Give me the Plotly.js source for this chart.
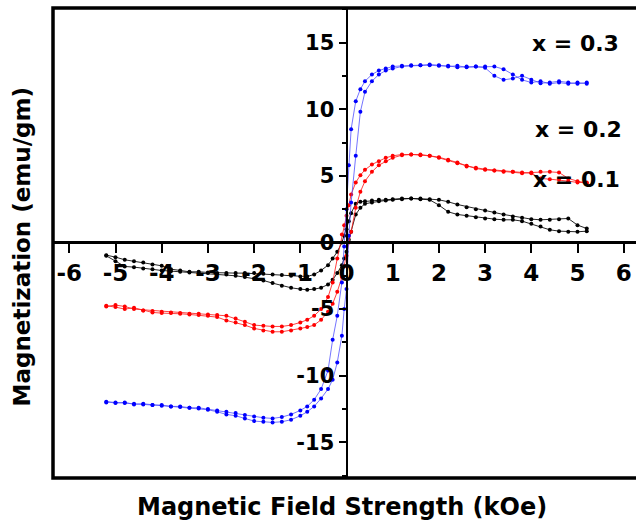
<!DOCTYPE html>
<html>
<head>
<meta charset="utf-8">
<script src="https://cdn.plot.ly/plotly-3.0.1.min.js"></script>
<style>html,body{margin:0;padding:0;background:#fff;}#chart{width:636px;height:526px;}</style>
</head>
<body>
<div id="chart"></div>
<script>
// Magnetic field (kOe) sample grid, from +5.2 down to -5.2
var field = [5.2,5.0,4.8,4.6,4.4,4.2,4.0,3.8,3.6,3.4,3.2,3.0,2.8,2.6,2.4,2.2,2.0,1.8,1.6,1.4,1.2,
  1.0,0.85,0.7,0.55,0.4,0.3,0.2,0.1,0.05,0.0,-0.05,-0.1,-0.2,-0.3,-0.4,-0.55,-0.7,-0.85,-1.0,
  -1.2,-1.4,-1.6,-1.8,-2.0,-2.2,-2.4,-2.6,-2.8,-3.0,-3.2,-3.4,-3.6,-3.8,-4.0,-4.2,-4.4,-4.6,-4.8,-5.0,-5.2];

// x = 0.3 (blue): descending and ascending branches, values at each field point above
var m03Down = [11.9,12.0,11.9,12.0,11.9,12.1,12.0,12.2,12.6,13.0,13.2,13.2,13.2,13.15,13.25,13.2,13.3,13.35,13.3,13.3,13.25,
  13.2,13.05,12.9,12.6,12.1,11.5,10.6,8.5,5.8,2.5,-0.3,-3.0,-5.5,-7.3,-9.6,-11.0,-11.8,-12.3,-12.6,
  -12.9,-13.1,-13.2,-13.15,-13.05,-12.95,-12.8,-12.7,-12.6,-12.5,-12.4,-12.4,-12.3,-12.3,-12.2,-12.2,-12.15,-12.1,-12.05,-12.0,-11.95];
var m03Up = [12.0,11.9,12.0,12.1,12.0,11.95,12.2,12.5,12.3,12.2,12.5,13.1,13.2,13.2,13.15,13.25,13.25,13.3,13.3,13.25,13.2,
  13.05,12.9,12.6,12.1,11.3,9.8,6.5,3.0,0.5,-3.5,-5.0,-7.0,-9.0,-10.3,-11.0,-11.7,-12.3,-12.7,-13.0,
  -13.3,-13.45,-13.5,-13.45,-13.4,-13.2,-13.0,-12.9,-12.7,-12.55,-12.45,-12.4,-12.35,-12.3,-12.25,-12.2,-12.1,-12.15,-12.0,-12.05,-12.0];

// x = 0.2 (red)
var m02Down = [4.5,4.5,4.6,4.7,4.75,4.8,5.2,5.25,5.3,5.35,5.4,5.5,5.6,5.75,6.0,6.2,6.4,6.5,6.6,6.6,6.6,
  6.5,6.35,6.1,5.85,5.45,5.05,4.5,3.6,2.8,2.0,1.3,0.6,-1.2,-3.0,-4.1,-5.0,-5.5,-5.8,-6.0,
  -6.2,-6.3,-6.3,-6.25,-6.2,-5.95,-5.7,-5.5,-5.45,-5.4,-5.35,-5.35,-5.3,-5.25,-5.2,-5.15,-5.1,-5.0,-4.8,-4.7,-4.8];
var m02Up = [4.45,4.6,4.8,5.25,5.3,5.3,5.25,5.2,5.3,5.3,5.4,5.45,5.55,5.7,5.95,6.15,6.35,6.5,6.55,6.6,6.55,
  6.35,6.1,5.8,5.3,4.6,3.8,2.6,0.8,0.0,-1.0,-1.8,-2.6,-3.7,-4.6,-5.2,-5.8,-6.2,-6.35,-6.45,
  -6.6,-6.7,-6.7,-6.6,-6.45,-6.2,-6.0,-5.85,-5.6,-5.5,-5.45,-5.4,-5.35,-5.3,-5.3,-5.25,-5.1,-4.9,-5.0,-4.85,-4.75];

// x = 0.1 (black)
var m01Down = [1.05,1.3,1.8,1.75,1.7,1.7,1.75,1.85,1.95,2.1,2.25,2.4,2.5,2.65,2.85,3.05,3.2,3.25,3.3,3.3,3.3,
  3.25,3.2,3.2,3.15,3.1,3.05,2.9,2.2,1.6,1.0,0.5,0.0,-0.7,-1.2,-1.7,-2.1,-2.4,-2.55,-2.55,
  -2.5,-2.45,-2.4,-2.35,-2.3,-2.3,-2.3,-2.3,-2.3,-2.25,-2.2,-2.2,-2.1,-2.0,-1.75,-1.65,-1.5,-1.4,-1.3,-1.1,-0.95];
var m01Up = [0.85,0.8,0.8,0.85,0.95,1.2,1.4,1.6,1.7,1.7,1.75,1.8,1.9,2.0,2.1,2.3,2.8,3.2,3.25,3.3,3.25,
  3.2,3.15,3.1,3.0,2.9,2.6,2.1,0.8,0.2,-0.7,-1.2,-1.7,-2.3,-2.8,-3.15,-3.4,-3.5,-3.55,-3.5,
  -3.4,-3.25,-3.05,-2.85,-2.7,-2.6,-2.5,-2.4,-2.35,-2.3,-2.3,-2.25,-2.2,-2.15,-2.1,-2.0,-1.95,-1.85,-1.8,-1.4,-1.0];

var seriesLabels = ['x = 0.1', 'x = 0.2', 'x = 0.3'];
var labelField = [4.97, 5.02, 4.95];
var labelMag = [4.76, 8.44, 14.9];

var xTickVals = [-6,-5,-4,-3,-2,-1,0,1,2,3,4,5,6];
var xTickText = ['-6','-5','-4','-3','-2','-1','0','1','2','3','4','5','6'];
var yTickVals = [-15,-10,-5,0,5,10,15];
var yTickText = ['-15','-10','-5','0','5','10','15'];

function loop(down, up) {
  var revField = field.slice().reverse();
  var revUp = up.slice().reverse();
  return {x: field.concat(revField), y: down.concat(revUp)};
}

var styles = [
  {m: '#000000', l: 'rgba(0,0,0,0.85)'},
  {m: '#ff0000', l: 'rgba(255,30,30,0.85)'},
  {m: '#0000ff', l: 'rgba(70,70,255,0.75)'}
];
var loops = [loop(m01Down, m01Up), loop(m02Down, m02Up), loop(m03Down, m03Up)];
var traces = loops.map(function (d, i) {
  return {
    x: d.x, y: d.y, type: 'scatter', mode: 'lines+markers',
    name: seriesLabels[i],
    line: {color: styles[i].l, width: 1},
    marker: {color: styles[i].m, size: 4},
    showlegend: false
  };
});

var XR = [-6.353, 6.266];
var YR = [-17.67, 17.59];
var fontFam = 'DejaVu Sans, Liberation Sans, Arial, sans-serif';

var annotations = seriesLabels.map(function (t, i) {
  return {x: labelField[i], y: labelMag[i], xref: 'x', yref: 'y', text: t, showarrow: false,
    xanchor: 'center', yanchor: 'middle',
    font: {family: fontFam, size: 22, color: '#000', weight: 'bold'}};
});
annotations.push({x: 0.4949, y: -0.062, xref: 'paper', yref: 'paper', text: 'Magnetic Field Strength (kOe)',
  showarrow: false, xanchor: 'center', yanchor: 'middle',
  font: {family: fontFam, size: 24, color: '#000', weight: 'bold'}});
annotations.push({x: -0.0532, y: 0.4926, xref: 'paper', yref: 'paper', text: 'Magnetization (emu/gm)',
  showarrow: false, xanchor: 'center', yanchor: 'middle', textangle: -90,
  font: {family: fontFam, size: 23, color: '#000', weight: 'bold'}});

var layout = {
  width: 636, height: 526,
  margin: {l: 53, r: 0, t: 8, b: 48},
  paper_bgcolor: '#ffffff', plot_bgcolor: '#ffffff',
  showlegend: false,
  xaxis: {
    range: XR, anchor: 'free', position: (0 - YR[0]) / (YR[1] - YR[0]),
    showline: true, linecolor: '#000', linewidth: 2.5, zeroline: false, showgrid: false,
    ticks: 'outside', ticklen: 9, tickwidth: 2, tickcolor: '#000',
    tickmode: 'array', tickvals: xTickVals, ticktext: xTickText,
    tickfont: {family: fontFam, size: 23, color: '#000', weight: 'bold'},
    layer: 'above traces'
  },
  yaxis: {
    range: YR, anchor: 'free', position: (0 - XR[0]) / (XR[1] - XR[0]),
    showline: true, linecolor: '#000', linewidth: 2.5, zeroline: false, showgrid: false,
    ticks: 'outside', ticklen: 7, tickwidth: 2, tickcolor: '#000',
    tickmode: 'array', tickvals: yTickVals, ticktext: yTickText,
    minor: {tickmode: 'array', tickvals: [-17.5,-12.5,-7.5,-2.5,2.5,7.5,12.5,17.5], ticks: 'outside', ticklen: 4, tickwidth: 2, tickcolor: '#000', showgrid: false},
    tickfont: {family: fontFam, size: 21, color: '#000', weight: 'bold'},
    layer: 'above traces'
  },
  shapes: [{type: 'rect', xref: 'paper', yref: 'paper', x0: 0, x1: 1.02, y0: 0, y1: 1,
    line: {color: '#000', width: 3.5}, fillcolor: 'rgba(0,0,0,0)', layer: 'above'}],
  annotations: annotations
};

Plotly.newPlot('chart', traces, layout, {staticPlot: true, displayModeBar: false});
</script>
</body>
</html>
